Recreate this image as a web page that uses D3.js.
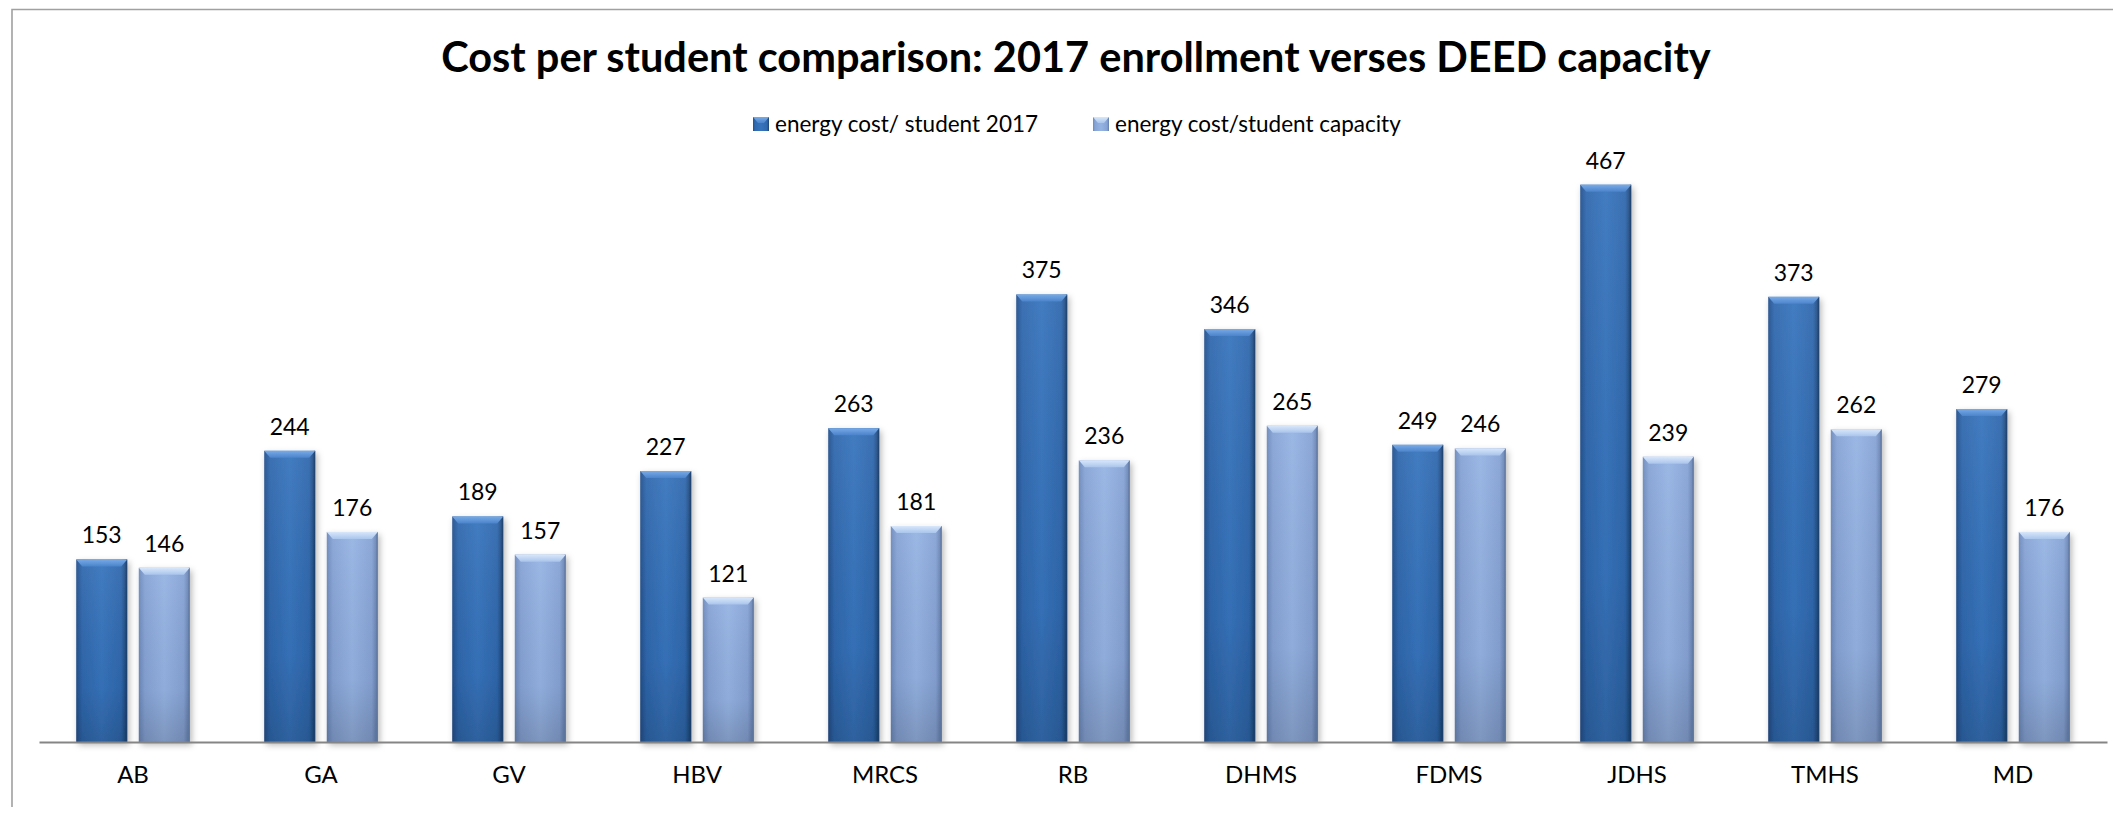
<!DOCTYPE html>
<html>
<head>
<meta charset="utf-8">
<script src="https://cdn.jsdelivr.net/npm/d3@7"></script>
<style>
  html, body { margin: 0; padding: 0; background: #ffffff; }
  svg { display: block; }
  text { font-family: Lato, "Open Sans", sans-serif; fill: #000; }
</style>
</head>
<body>
<svg id="chart" width="2113" height="816"></svg>
<script>
// School codes along the category axis
const categories = ["AB", "GA", "GV", "HBV", "MRCS", "RB", "DHMS", "FDMS", "JDHS", "TMHS", "MD"];
// Energy cost per student based on 2017 enrollment
const costPerStudent2017 = [153, 244, 189, 227, 263, 375, 346, 249, 467, 373, 279];
// Energy cost per student based on DEED capacity
const costPerStudentCapacity = [146, 176, 157, 121, 181, 236, 265, 246, 239, 262, 176];
// Series names shown in the legend
const seriesNames = ["energy cost/ student 2017", "energy cost/student capacity"];
const chartTitle = "Cost per student comparison: 2017 enrollment verses DEED capacity";

const W = 2113, H = 816;
const svg = d3.select("#chart");
const defs = svg.append("defs");

// Bevelled bar styling per series
const styles = [
  { side: ["#22508c", "#2f68ae", "#3774bd", "#2f68ae", "#1c416f"], bevel: ["#78aae6", "#4b84cb"], edge: "#1d426f" },
  { side: ["#6c89bb", "#86a3d5", "#95b3e3", "#86a3d5", "#627ca9"], bevel: ["#d8e7fa", "#a9c5ec"], edge: "#5f78a4" }
];
styles.forEach((s, i) => {
  const h = defs.append("linearGradient").attr("id", "side" + i)
    .attr("x1", 0).attr("x2", 1).attr("y1", 0).attr("y2", 0);
  [0, 0.12, 0.5, 0.88, 1].forEach((o, k) =>
    h.append("stop").attr("offset", o).attr("stop-color", s.side[k]));
  const b = defs.append("linearGradient").attr("id", "bevel" + i)
    .attr("x1", 0).attr("x2", 0).attr("y1", 0).attr("y2", 1);
  b.append("stop").attr("offset", 0).attr("stop-color", s.bevel[0]);
  b.append("stop").attr("offset", 1).attr("stop-color", s.bevel[1]);
});
const shade = defs.append("linearGradient").attr("id", "shade")
  .attr("x1", 0).attr("x2", 0).attr("y1", 0).attr("y2", 1);
shade.append("stop").attr("offset", 0).attr("stop-color", "#ffffff").attr("stop-opacity", 0.06);
shade.append("stop").attr("offset", 0.7).attr("stop-color", "#000000").attr("stop-opacity", 0.04);
shade.append("stop").attr("offset", 1).attr("stop-color", "#000000").attr("stop-opacity", 0.16);

const shadow = defs.append("filter").attr("id", "barShadow")
  .attr("x", "-20%").attr("y", "-5%").attr("width", "150%").attr("height", "115%");
shadow.append("feDropShadow").attr("dx", 2).attr("dy", 3).attr("stdDeviation", 3)
  .attr("flood-color", "#000").attr("flood-opacity", 0.28);

// Chart frame
svg.append("path")
  .attr("d", "M12,807 V9.5 H" + W)
  .attr("fill", "none").attr("stroke", "#a0a0a0").attr("stroke-width", 1.6);

// Title
svg.append("text")
  .attr("x", 1076).attr("y", 72)
  .attr("text-anchor", "middle")
  .style("font-size", "41.5px").style("font-weight", "bold")
  .text(chartTitle);

// Scales
const x0 = d3.scaleBand().domain(categories).range([39, 2107])
  .paddingInner(0.396).paddingOuter(0.198);
const x1 = d3.scaleBand().domain([0, 1]).range([0, x0.bandwidth()])
  .paddingInner(0.185).paddingOuter(0);
const y = d3.scaleLinear().domain([0, 500]).range([742, 145.3]);

const rows = categories.map((c, i) => ({ cat: c, values: [costPerStudent2017[i], costPerStudentCapacity[i]] }));

// Bars
const groups = svg.append("g").selectAll("g").data(rows).join("g")
  .attr("transform", d => `translate(${x0(d.cat)},0)`);

const bars = groups.selectAll("g.bar")
  .data(d => d.values.map((v, s) => ({ v, s })))
  .join("g").attr("class", "bar")
  .attr("filter", "url(#barShadow)");

const bw = x1.bandwidth();
bars.append("rect")
  .attr("x", d => x1(d.s)).attr("y", d => y(d.v))
  .attr("width", bw).attr("height", d => y(0) - y(d.v))
  .attr("fill", d => `url(#side${d.s})`);
bars.append("rect")
  .attr("x", d => x1(d.s)).attr("y", d => y(d.v))
  .attr("width", bw).attr("height", d => y(0) - y(d.v))
  .attr("fill", "url(#shade)");
bars.append("rect")
  .attr("x", d => x1(d.s) + bw - 1.5).attr("y", d => y(d.v))
  .attr("width", 1.5).attr("height", d => y(0) - y(d.v))
  .attr("fill", d => styles[d.s].edge).attr("opacity", 0.7);
// top bevel
bars.append("path")
  .attr("d", d => {
    const l = x1(d.s), r = l + bw, t = y(d.v), inset = 6, bh = 7;
    return `M${l},${t} H${r} L${r - inset},${t + bh} H${l + inset} Z`;
  })
  .attr("fill", d => `url(#bevel${d.s})`);

// Value labels
groups.selectAll("text.value")
  .data(d => d.values.map((v, s) => ({ v, s })))
  .join("text").attr("class", "value")
  .attr("x", d => x1(d.s) + bw / 2)
  .attr("y", d => y(d.v) - 16)
  .attr("text-anchor", "middle")
  .style("font-size", "23px")
  .text(d => d.v);

// Category axis
const axis = svg.append("g").attr("transform", `translate(0,${y(0)})`)
  .call(d3.axisBottom(x0).tickSize(0).tickSizeOuter(0).tickPadding(0));
axis.select(".domain").attr("stroke", "#858585").attr("stroke-width", 2);
axis.selectAll(".tick text")
  .attr("dy", 0).attr("y", 41)
  .style("font-size", "24px").style("font-family", "Lato, sans-serif").attr("fill", "#000");

// Legend
const legendX = [753, 1093];
const legend = svg.append("g").selectAll("g").data(seriesNames).join("g")
  .attr("transform", (d, i) => `translate(${legendX[i]},117)`);
legend.append("rect").attr("width", 16).attr("height", 14)
  .attr("fill", (d, i) => `url(#side${i})`);
legend.append("path").attr("d", "M0,0 H16 L11,6 H5 Z")
  .attr("fill", (d, i) => `url(#bevel${i})`);
legend.append("text").attr("x", 22).attr("y", 14.5)
  .style("font-size", "22.5px")
  .text(d => d);
</script>
</body>
</html>
